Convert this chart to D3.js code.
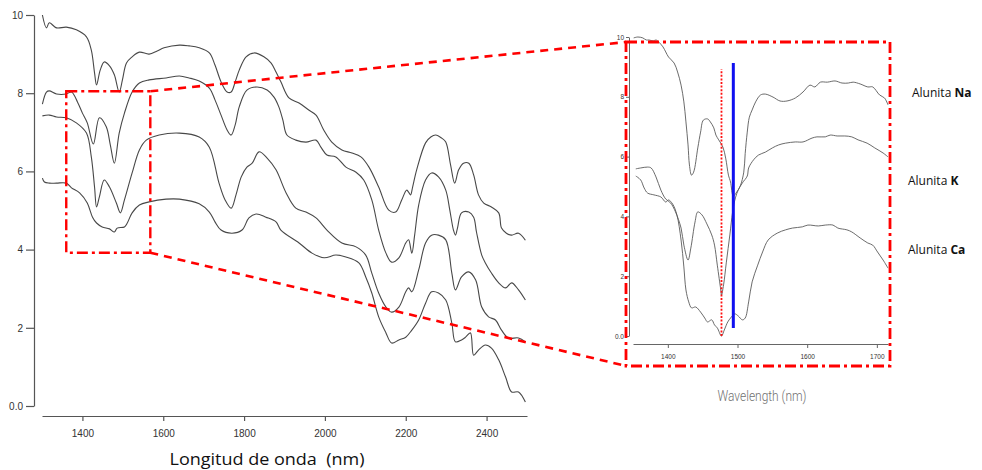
<!DOCTYPE html>
<html>
<head>
<meta charset="utf-8">
<script src="https://cdn.jsdelivr.net/npm/d3@7/dist/d3.min.js"></script>
<style>
  html, body { margin: 0; padding: 0; background: #fff; }
  svg { display: block; }
  .tick text { fill: #333; }
</style>
</head>
<body>
<svg id="chart" width="982" height="470"></svg>
<script>
// ---- Main spectra (wavelength nm, reflectance offset units) ----
const specA = [[1301,10.0],[1311,9.67],[1318,9.80],[1336,9.67],[1360,9.69],[1385,9.62],[1410,9.44],[1422,9.10],[1430,8.52],[1435,8.21],[1444,8.59],[1454,8.80],[1467,8.70],[1479,8.47],[1491,8.03],[1499,8.34],[1509,8.77],[1523,8.93],[1541,9.05],[1565,9.00],[1585,9.08],[1602,9.16],[1640,9.23],[1664,9.21],[1689,9.16],[1714,9.03],[1728,8.72],[1743,8.29],[1758,8.03],[1768,8.03],[1778,8.29],[1788,8.59],[1805,8.93],[1825,9.03],[1849,8.93],[1867,8.77],[1879,8.54],[1891,8.29],[1911,7.88],[1936,7.75],[1960,7.57],[1978,7.44],[1997,7.06],[2017,6.75],[2042,6.55],[2067,6.47],[2089,6.37],[2109,6.11],[2133,5.60],[2158,5.01],[2175,4.96],[2190,5.27],[2202,5.52],[2207,5.47],[2212,5.40],[2217,5.60],[2227,6.04],[2249,6.73],[2262,6.88],[2274,6.93],[2289,6.85],[2299,6.75],[2311,6.16],[2321,5.70],[2331,6.04],[2343,6.21],[2356,6.21],[2368,5.91],[2380,5.40],[2393,5.19],[2412,5.09],[2430,4.94],[2437,4.55],[2449,4.42],[2462,4.37],[2479,4.42],[2496,4.24]];

const specB = [[1301,7.72],[1311,8.03],[1318,8.06],[1336,7.98],[1360,7.98],[1373,8.03],[1388,7.77],[1400,7.49],[1412,7.24],[1427,6.70],[1442,7.37],[1459,7.14],[1469,6.68],[1479,6.21],[1491,6.98],[1504,7.49],[1523,8.03],[1541,8.26],[1565,8.34],[1607,8.39],[1640,8.44],[1664,8.39],[1689,8.31],[1714,8.13],[1728,7.83],[1743,7.44],[1758,7.06],[1768,6.93],[1778,7.19],[1788,7.65],[1807,8.08],[1832,8.16],[1857,8.08],[1874,7.90],[1886,7.65],[1896,7.31],[1906,6.93],[1928,6.80],[1953,6.75],[1978,6.80],[1990,6.62],[2005,6.42],[2027,6.37],[2052,6.11],[2077,5.98],[2096,5.78],[2116,5.27],[2133,4.50],[2151,3.91],[2165,3.68],[2183,3.79],[2200,4.17],[2207,4.25],[2215,3.91],[2222,4.37],[2232,5.14],[2249,5.78],[2264,5.96],[2281,5.86],[2299,5.52],[2309,5.01],[2318,4.50],[2323,4.37],[2328,4.55],[2338,4.94],[2356,4.96],[2368,4.83],[2375,4.45],[2388,3.86],[2397,3.66],[2412,3.40],[2430,3.15],[2447,3.02],[2462,3.15],[2479,2.97],[2496,2.71]];

const specC = [[1301,7.42],[1318,7.44],[1336,7.39],[1360,7.37],[1385,7.24],[1410,6.98],[1422,6.37],[1430,5.60],[1435,5.09],[1442,5.35],[1454,5.78],[1467,5.60],[1484,5.19],[1494,4.94],[1504,5.27],[1523,5.96],[1541,6.55],[1558,6.80],[1590,6.93],[1640,6.98],[1689,6.88],[1714,6.62],[1738,5.70],[1753,5.27],[1768,5.06],[1780,5.40],[1793,5.86],[1807,6.11],[1820,6.21],[1837,6.50],[1857,6.34],[1879,6.04],[1904,5.45],[1928,5.06],[1953,4.96],[1978,4.81],[2005,4.50],[2042,4.17],[2077,4.07],[2101,3.86],[2116,3.40],[2133,2.89],[2151,2.53],[2165,2.40],[2183,2.53],[2200,2.92],[2207,3.02],[2215,2.92],[2232,3.48],[2249,4.17],[2264,4.37],[2281,4.37],[2299,4.25],[2314,3.40],[2323,2.97],[2338,3.30],[2356,3.43],[2373,3.22],[2388,2.53],[2405,2.28],[2422,2.20],[2437,1.94],[2454,1.74],[2479,1.74],[2496,1.64]];

const specD = [[1301,5.83],[1306,5.73],[1318,5.70],[1336,5.70],[1360,5.70],[1373,5.58],[1393,5.45],[1412,5.19],[1425,4.83],[1435,4.68],[1449,4.58],[1467,4.53],[1479,4.45],[1486,4.55],[1504,4.58],[1511,4.68],[1523,4.94],[1541,5.14],[1565,5.22],[1607,5.29],[1640,5.29],[1689,5.17],[1714,4.96],[1728,4.71],[1743,4.50],[1770,4.42],[1795,4.50],[1812,4.81],[1830,4.91],[1854,4.83],[1879,4.71],[1891,4.50],[1936,4.17],[1968,3.91],[1998,3.79],[2027,3.86],[2052,3.81],[2084,3.66],[2101,3.30],[2116,2.89],[2133,2.28],[2151,1.87],[2165,1.61],[2183,1.69],[2200,1.76],[2215,1.94],[2232,2.20],[2249,2.63],[2264,2.92],[2281,2.89],[2299,2.71],[2314,2.12],[2323,1.64],[2338,1.69],[2348,1.76],[2360,1.87],[2368,1.30],[2380,1.43],[2397,1.56],[2412,1.48],[2430,1.18],[2447,0.74],[2462,0.36],[2479,0.36],[2496,0.10]];

// ---- Detail spectra 1350-1716 nm ----
const insetNa = [[1351,9.97],[1357,10.0],[1364,9.97],[1369,9.90],[1373,9.90],[1379,9.87],[1383,9.90],[1387,9.83],[1393,9.67],[1397,9.50],[1401,9.33],[1409,9.13],[1414,8.83],[1419,8.39],[1423,7.83],[1426,7.16],[1429,6.39],[1431,5.72],[1434,5.38],[1437,5.48],[1443,6.29],[1447,6.82],[1451,7.22],[1457,7.26],[1461,7.16],[1466,6.96],[1469,6.72],[1473,6.56],[1479,6.32],[1483,5.95],[1487,5.38],[1490,5.15],[1494,4.68],[1499,4.82],[1504,5.02],[1509,5.48],[1511,6.10],[1514,6.82],[1517,7.32],[1521,7.56],[1526,7.83],[1533,8.06],[1540,8.09],[1551,7.99],[1561,7.86],[1571,7.86],[1583,7.96],[1594,8.16],[1604,8.39],[1611,8.33],[1619,8.49],[1629,8.49],[1640,8.53],[1650,8.46],[1659,8.46],[1666,8.49],[1676,8.43],[1687,8.33],[1694,8.33],[1704,8.06],[1711,7.96],[1716,7.73]];

const insetK = [[1354,5.59],[1361,5.62],[1371,5.65],[1376,5.62],[1383,5.32],[1390,4.88],[1397,4.58],[1404,4.45],[1411,4.15],[1419,3.61],[1423,3.04],[1429,2.54],[1433,2.94],[1439,3.81],[1443,4.15],[1449,4.05],[1456,3.75],[1463,3.38],[1467,3.04],[1471,2.37],[1476,1.54],[1477,1.37],[1480,1.71],[1484,2.47],[1489,3.38],[1493,4.15],[1497,4.62],[1501,4.88],[1507,5.12],[1514,5.35],[1516,5.62],[1523,5.89],[1530,6.05],[1540,6.15],[1550,6.29],[1559,6.39],[1569,6.45],[1583,6.49],[1594,6.49],[1607,6.62],[1614,6.66],[1626,6.66],[1633,6.72],[1643,6.69],[1654,6.69],[1664,6.66],[1673,6.56],[1686,6.45],[1697,6.29],[1709,6.12],[1716,5.99]];

const insetCa = [[1354,5.35],[1361,5.22],[1366,4.95],[1371,4.78],[1380,4.72],[1390,4.65],[1397,4.48],[1401,4.55],[1407,4.41],[1413,4.05],[1419,3.21],[1423,2.31],[1426,1.54],[1430,1.14],[1434,0.94],[1440,0.97],[1447,0.80],[1453,0.60],[1457,0.47],[1463,0.54],[1467,0.37],[1471,0.27],[1477,0.0],[1481,0.20],[1486,0.47],[1490,0.60],[1496,0.74],[1501,0.67],[1507,0.54],[1511,0.60],[1516,1.14],[1521,1.81],[1529,2.37],[1536,2.81],[1544,3.21],[1557,3.44],[1569,3.55],[1579,3.61],[1593,3.65],[1601,3.71],[1616,3.68],[1626,3.71],[1637,3.71],[1644,3.61],[1657,3.55],[1664,3.48],[1676,3.28],[1687,3.11],[1694,3.04],[1701,2.81],[1709,2.54],[1716,2.27]];

// ---- Ticks ----
const mainXTicks = [1400, 1600, 1800, 2000, 2200, 2400];
const yTicks = [0, 2, 4, 6, 8, 10];
const insetXTicks = [1400, 1500, 1600, 1700];

// ---- Zoomed window on the main plot and reference lines in the detail plot ----
const zoomLambda = [1360, 1568];
const zoomValue = [3.92, 8.05];
const dottedRefLine = [1477, 0.0, 8.93];   // wavelength, from, to
const blueRefLine = [1494, 0.27, 9.13];

// ---- Series labels ----
const seriesLabels = [["Alunita ", "Na"], ["Alunita ", "K"], ["Alunita ", "Ca"]];

const svg = d3.select("#chart");
const tickFmt = d => d === 0 ? "0.0" : String(d);
const intFmt = d3.format("d");

// ================= Main plot =================
const x = d3.scaleLinear().domain([1300, 2500]).range([42, 527]);
const y = d3.scaleLinear().domain([0, 10]).range([406, 15]);

const yAxis = svg.append("g")
  .attr("transform", "translate(34,0)")
  .call(d3.axisLeft(y).tickValues(yTicks).tickFormat(tickFmt).tickSize(8).tickSizeOuter(0).tickPadding(3));
const xAxis = svg.append("g")
  .attr("transform", "translate(0,416)")
  .call(d3.axisBottom(x).tickValues(mainXTicks).tickFormat(intFmt).tickSize(5).tickSizeOuter(0).tickPadding(9));
[yAxis, xAxis].forEach(g => {
  g.select(".domain").attr("stroke", "#555").attr("stroke-width", 1.2);
  g.selectAll(".tick line").attr("stroke", "#555").attr("stroke-width", 1.2);
  g.selectAll(".tick text").attr("font-family", "Liberation Sans, Arial, sans-serif").attr("font-size", 10);
});

const mainLine = d3.line().x(d => x(d[0])).y(d => y(d[1])).curve(d3.curveCatmullRom.alpha(0.5));
[specA, specB, specC, specD].forEach(s => {
  svg.append("path").datum(s)
    .attr("d", mainLine)
    .attr("fill", "none")
    .attr("stroke", "#484848")
    .attr("stroke-width", 1.1)
    .attr("stroke-linejoin", "round");
});

svg.append("text")
  .attr("x", 267).attr("y", 465)
  .attr("text-anchor", "middle")
  .attr("font-family", "Open Sans, Liberation Sans, sans-serif")
  .attr("font-size", 16)
  .attr("fill", "#111")
  .style("white-space", "pre")
  .attr("textLength", 195).attr("lengthAdjust", "spacingAndGlyphs")
  .text("Longitud de onda  (nm)");

// ================= Detail plot =================
const xi = d3.scaleLinear().domain([1350, 1716]).range([633, 888]);
const yi = d3.scaleLinear().domain([0, 10]).range([336, 37]);

const yiAxis = svg.append("g")
  .attr("transform", "translate(629,0)")
  .call(d3.axisLeft(yi).tickValues(yTicks).tickFormat(tickFmt).tickSize(3).tickSizeOuter(0).tickPadding(2));
const xiAxis = svg.append("g")
  .attr("transform", "translate(0,344)")
  .call(d3.axisBottom(xi).tickValues(insetXTicks).tickFormat(intFmt).tickSize(4).tickSizeOuter(0).tickPadding(6));
[yiAxis, xiAxis].forEach(g => {
  g.select(".domain").attr("stroke", "#666").attr("stroke-width", 1);
  g.selectAll(".tick line").attr("stroke", "#666").attr("stroke-width", 1);
  g.selectAll(".tick text").attr("font-family", "Liberation Sans, Arial, sans-serif").attr("font-size", 6.5).attr("fill", "#444");
});

const insetLine = d3.line().x(d => xi(d[0])).y(d => yi(d[1])).curve(d3.curveCatmullRom.alpha(0.5));
[insetNa, insetK, insetCa].forEach(s => {
  svg.append("path").datum(s)
    .attr("d", insetLine)
    .attr("fill", "none")
    .attr("stroke", "#5a5a5a")
    .attr("stroke-width", 0.9)
    .attr("stroke-linejoin", "round");
});

// reference lines
svg.append("line")
  .attr("x1", xi(dottedRefLine[0])).attr("x2", xi(dottedRefLine[0]))
  .attr("y1", yi(dottedRefLine[1])).attr("y2", yi(dottedRefLine[2]))
  .attr("stroke", "#ff1010").attr("stroke-width", 1.8).attr("stroke-dasharray", "2,1.6");
svg.append("line")
  .attr("x1", xi(blueRefLine[0])).attr("x2", xi(blueRefLine[0]))
  .attr("y1", yi(blueRefLine[1])).attr("y2", yi(blueRefLine[2]))
  .attr("stroke", "#1010f0").attr("stroke-width", 3);

svg.append("text")
  .attr("x", 762).attr("y", 401)
  .attr("text-anchor", "middle")
  .attr("font-family", "Roboto, Liberation Sans, sans-serif")
  .attr("font-weight", 300)
  .attr("font-size", 14)
  .attr("fill", "#707070")
  .attr("textLength", 89).attr("lengthAdjust", "spacingAndGlyphs")
  .text("Wavelength (nm)");

// ================= Zoom window, detail frame and connectors =================
const red = "#ff0000";
const zx0 = x(zoomLambda[0]), zx1 = x(zoomLambda[1]);
const zy0 = y(zoomValue[1]), zy1 = y(zoomValue[0]);
svg.append("rect")
  .attr("x", zx0).attr("y", zy0).attr("width", zx1 - zx0).attr("height", zy1 - zy0)
  .attr("fill", "none").attr("stroke", red).attr("stroke-width", 2.4)
  .attr("stroke-dasharray", "11,4,3,4");

const frame = { x0: 626, y0: 42, x1: 890, y1: 366 };
svg.append("rect")
  .attr("x", frame.x0).attr("y", frame.y0)
  .attr("width", frame.x1 - frame.x0).attr("height", frame.y1 - frame.y0)
  .attr("fill", "none").attr("stroke", red).attr("stroke-width", 2.8)
  .attr("stroke-dasharray", "11,4,3,4");

[[zx1, zy0, frame.x0, frame.y0], [zx1, zy1, frame.x0, frame.y1]].forEach(c => {
  svg.append("line")
    .attr("x1", c[0]).attr("y1", c[1]).attr("x2", c[2]).attr("y2", c[3])
    .attr("stroke", red).attr("stroke-width", 2.6).attr("stroke-dasharray", "8,6");
});

// ================= Series labels =================
const labelPos = [[912, 97], [908, 185], [908, 254]];
seriesLabels.forEach((lab, i) => {
  const t = svg.append("text")
    .attr("x", labelPos[i][0]).attr("y", labelPos[i][1])
    .attr("font-family", "Open Sans, Liberation Sans, sans-serif")
    .attr("font-size", 12)
    .attr("fill", "#111")
    .style("white-space", "pre");
  t.append("tspan").text(lab[0]);
  t.append("tspan").attr("font-weight", "bold").text(lab[1]);
});
</script>
</body>
</html>
